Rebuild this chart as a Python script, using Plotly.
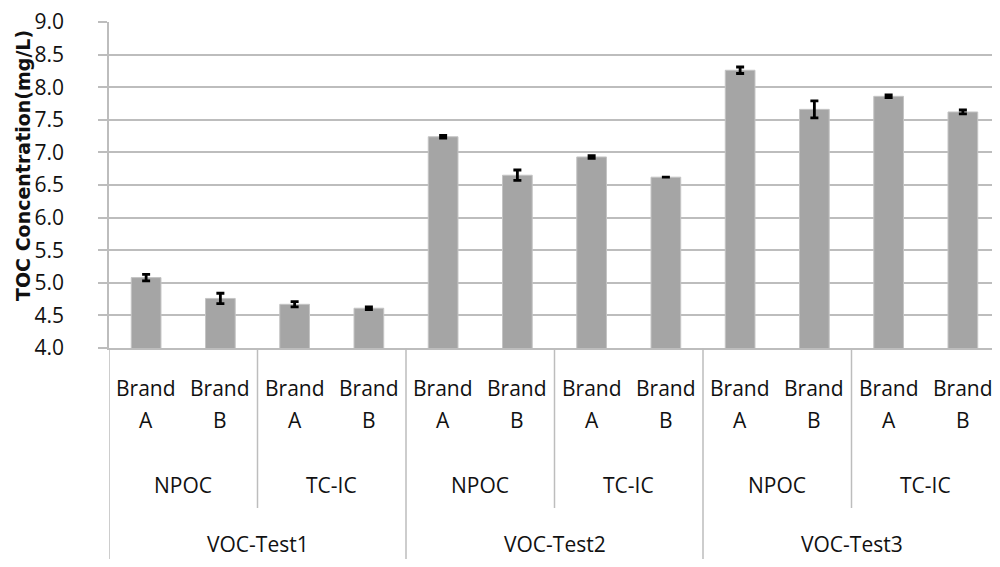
import plotly.graph_objects as go

# ---- data ----
tests = ["VOC-Test1", "VOC-Test2", "VOC-Test3"]
methods = ["NPOC", "TC-IC"]
brands = ["Brand A", "Brand B"]
values = [5.08, 4.76, 4.67, 4.61, 7.24, 6.65, 6.93, 6.62, 8.26, 7.66, 7.86, 7.62]
errors = [0.05, 0.08, 0.04, 0.02, 0.02, 0.08, 0.02, 0.0, 0.05, 0.13, 0.02, 0.03]
y_ticks = [4.0, 4.5, 5.0, 5.5, 6.0, 6.5, 7.0, 7.5, 8.0, 8.5, 9.0]
y_title = "TOC Concentration(mg/L)"

# page has an 8px body margin: keep the figure inside the 1000x567 viewport
OFF = 8
W, H = 1000 - 2 * OFF, 567 - 2 * OFF
PLOT_LEFT, PLOT_TOP, PLOT_BOTTOM = 109, 22, 348      # page pixels in the reference
CAT_PX = (1000 - PLOT_LEFT) / 12.0
M_L, M_R, M_T = PLOT_LEFT - OFF, 0, PLOT_TOP - OFF
M_B = H - (PLOT_BOTTOM - OFF)
PLOT_H = PLOT_BOTTOM - PLOT_TOP
PLOT_W = W - M_L - M_R
FONT = "Open Sans"
GRID = "#BDBDBD"
TXT = "#111111"


def py(p):
    """page pixel row -> paper y"""
    return (PLOT_BOTTOM - p) / PLOT_H


def px(p):
    """page pixel column -> paper x"""
    return (p - PLOT_LEFT) / PLOT_W


n_b, n_m = len(brands), len(methods)
xs = list(range(len(values)))

fig = go.Figure()
fig.add_trace(go.Bar(
    x=xs, y=values, width=0.4,
    marker=dict(color="#A5A5A5", line=dict(color="#C4C4C4", width=1)),
    error_y=dict(type="data", array=errors, visible=True, color="black",
                 thickness=2.8, width=4),
))

annotations = []
shapes = []
lab_font = dict(family=FONT, size=21, color=TXT)
# level 1: brands
for i in xs:
    word, letter = brands[i % n_b].split(" ")
    annotations.append(dict(x=i, y=py(388), xref="x", yref="paper", text=word,
                            showarrow=False, yanchor="middle", font=lab_font))
    annotations.append(dict(x=i, y=py(420), xref="x", yref="paper", text=letter,
                            showarrow=False, yanchor="middle", font=lab_font))
# level 2: methods
n_groups = len(values) // n_b
for g in range(n_groups):
    cx = g * n_b + (n_b - 1) / 2
    annotations.append(dict(x=cx, y=py(485), xref="x", yref="paper",
                            text=methods[g % n_m], showarrow=False,
                            yanchor="middle", font=lab_font))
# level 3: tests
span = n_b * n_m
for t, name in enumerate(tests):
    cx = t * span + (span - 1) / 2
    annotations.append(dict(x=cx, y=py(544), xref="x", yref="paper",
                            text=name, showarrow=False, yanchor="middle",
                            font=lab_font))
# y-axis title
annotations.append(dict(x=px(23), y=py(166), xref="paper", yref="paper",
                        text=f"<b>{y_title}</b>", textangle=-90, showarrow=False,
                        xanchor="center", yanchor="middle",
                        font=dict(family="DejaVu Sans", size=19, color=TXT)))
# dividers
for g in range(n_groups):
    xb = g * n_b - 0.5
    bottom = py(567) if g % n_m == 0 else py(508)
    shapes.append(dict(type="line", xref="x", yref="paper", x0=xb, x1=xb,
                       y0=0, y1=bottom, line=dict(color=GRID, width=1.5)))

fig.update_layout(
    width=W, height=H,
    margin=dict(l=M_L, r=M_R, t=M_T, b=M_B),
    plot_bgcolor="white", paper_bgcolor="white",
    showlegend=False, bargap=0.6,
    annotations=annotations, shapes=shapes,
    xaxis=dict(range=[-0.5, -0.5 + PLOT_W / CAT_PX], showticklabels=False,
               showgrid=False, zeroline=False, showline=True, linecolor=GRID,
               linewidth=1.5, ticks=""),
    yaxis=dict(range=[4, 9], tickvals=y_ticks, ticktext=[f"{v:.1f}" for v in y_ticks],
               showgrid=True, gridcolor=GRID, gridwidth=1.5,
               showline=True, linecolor=GRID, linewidth=1.5,
               ticks="outside", ticklen=9, tickcolor=GRID, tickwidth=1.5,
               ticklabelstandoff=30, ticklabeloverflow="allow",
               zeroline=False,
               tickfont=dict(family=FONT, size=21, color=TXT)),
)

fig.write_html("out.html")
